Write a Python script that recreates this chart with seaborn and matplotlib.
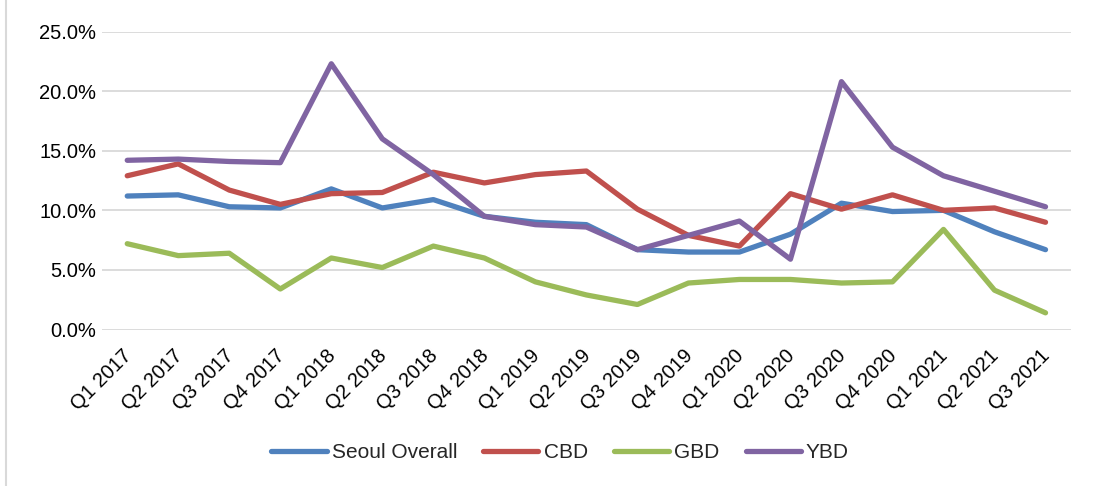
import pandas as pd
import matplotlib.pyplot as plt
import matplotlib.transforms as mtransforms
import seaborn as sns
from matplotlib.lines import Line2D
from matplotlib.ticker import PercentFormatter

# === Data (vacancy rate, %) ===
quarters = ["Q1 2017", "Q2 2017", "Q3 2017", "Q4 2017",
            "Q1 2018", "Q2 2018", "Q3 2018", "Q4 2018",
            "Q1 2019", "Q2 2019", "Q3 2019", "Q4 2019",
            "Q1 2020", "Q2 2020", "Q3 2020", "Q4 2020",
            "Q1 2021", "Q2 2021", "Q3 2021"]
seoul_overall = [11.2, 11.3, 10.3, 10.2, 11.8, 10.2, 10.9, 9.5, 9.0, 8.8,
                 6.7, 6.5, 6.5, 8.0, 10.6, 9.9, 10.0, 8.2, 6.7]
cbd = [12.9, 13.9, 11.7, 10.5, 11.4, 11.5, 13.2, 12.3, 13.0, 13.3,
       10.1, 7.9, 7.0, 11.4, 10.1, 11.3, 10.0, 10.2, 9.0]
gbd = [7.2, 6.2, 6.4, 3.4, 6.0, 5.2, 7.0, 6.0, 4.0, 2.9,
       2.1, 3.9, 4.2, 4.2, 3.9, 4.0, 8.4, 3.3, 1.4]
ybd = [14.2, 14.3, 14.1, 14.0, 22.3, 16.0, 13.0, 9.5, 8.8, 8.6,
       6.7, 7.9, 9.1, 5.9, 20.8, 15.3, 12.9, 11.6, 10.3]

series_names = ["Seoul Overall", "CBD", "GBD", "YBD"]
colors = ["#4F81BD", "#C0504D", "#9BBB59", "#8064A2"]

# === Long-form table ===
frames = []
for name, vals in zip(series_names, [seoul_overall, cbd, gbd, ybd]):
    frames.append(pd.DataFrame({"quarter": quarters, "rate": vals, "series": name}))
df = pd.concat(frames, ignore_index=True)

# === Plot ===
sns.set_style("white")
plt.rcParams["font.family"] = ["Liberation Sans", "DejaVu Sans"]

fig = plt.figure(figsize=(10.94, 4.86), dpi=100)
ax = fig.add_axes([0.093, 0.322, 0.886, 0.613])

sns.lineplot(data=df, x="quarter", y="rate", hue="series", palette=colors,
             sort=False, linewidth=3.8, ax=ax, legend=True)

ax.set_ylim(0, 25)
ax.set_xlim(-0.5, len(quarters) - 0.5)
ax.set_yticks([0, 5, 10, 15, 20, 25])
ax.yaxis.set_major_formatter(PercentFormatter(decimals=1))
ax.grid(axis="y", color="#D9D9D9", linewidth=1.3)
ax.set_axisbelow(True)
for s in ax.spines.values():
    s.set_visible(False)
ax.tick_params(axis="both", length=0, labelsize=14.5, colors="black")
ax.tick_params(axis="y", pad=4)
ax.tick_params(axis="x", pad=12)
shift = mtransforms.ScaledTranslation(-0.05, 0, fig.dpi_scale_trans)
for lbl in ax.get_xticklabels():
    lbl.set_rotation(45)
    lbl.set_ha("right")
    lbl.set_va("top")
    lbl.set_rotation_mode("anchor")
    lbl.set_transform(lbl.get_transform() + shift)
ax.set_xlabel("")
ax.set_ylabel("")

# thin frame line on the left edge
fig.add_artist(Line2D([0.0055, 0.0055], [0, 1], transform=fig.transFigure,
                      color="#D9D9D9", linewidth=1.5))

# === Legend at bottom ===
handles, labels = ax.get_legend_handles_labels()
ax.legend_.remove()
fig.legend(handles, labels, loc="center", bbox_to_anchor=(0.512, 0.068), ncol=4,
           frameon=False, fontsize=15, handlelength=2.65, handletextpad=0.25,
           columnspacing=1.25)

plt.savefig("out.png", dpi=100)
plt.close()
